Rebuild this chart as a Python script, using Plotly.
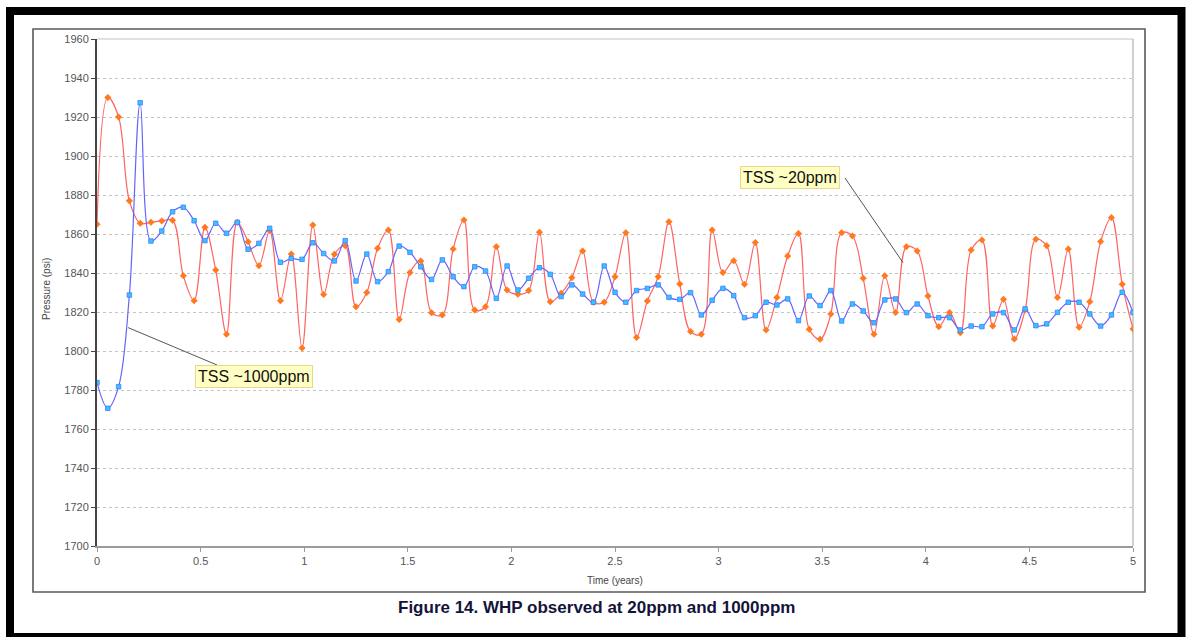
import numpy as np
import plotly.graph_objects as go

# Time axis (years) - uniform output steps over 5 years
time_years = np.linspace(0, 5, 97)

# Well-head pressure (psi), TSS ~20ppm case
whp_20ppm = [
    1865, 1930, 1920, 1877, 1865.5, 1866, 1866.7, 1867, 1838.6, 1825.8,
    1863.4, 1841.5, 1808.6, 1866, 1856, 1843.7, 1861.7, 1825.8, 1849.7, 1801.5,
    1864.6, 1829, 1849.6, 1854, 1822.7, 1830, 1852.7, 1862, 1816.2, 1840.2,
    1846.2, 1819.6, 1818.5, 1852.3, 1867.2, 1821, 1822.7, 1853.5, 1831.3, 1829.1,
    1831, 1860.9, 1825.3, 1829.6, 1837.6, 1851.3, 1825, 1825, 1838.1, 1860.7,
    1806.9, 1825.7, 1838.1, 1866.3, 1834.4, 1810, 1808.6, 1862, 1840.2, 1846.3,
    1834.2, 1855.6, 1810.8, 1827.5, 1848.7, 1860.3, 1811.1, 1806, 1819, 1860.7,
    1859, 1837.3, 1808.6, 1838.6, 1819.7, 1853.5, 1851.3, 1828.2, 1812.5, 1819.8,
    1809.4, 1851.8, 1856.9, 1812.8, 1826.5, 1806.2, 1821, 1857.3, 1854, 1827.4,
    1852.3, 1812.2, 1825.3, 1856.1, 1868.4, 1834.2, 1811.3,
]

# Well-head pressure (psi), TSS ~1000ppm case
whp_1000ppm = [
    1783.8, 1770.6, 1781.7, 1828.7, 1927.3, 1856.4, 1861.5, 1871.4, 1873.7, 1866.8,
    1856.6, 1865.5, 1860.4, 1866, 1852.2, 1855.2, 1862.9, 1845.5, 1847.5, 1847,
    1855.5, 1850, 1846.2, 1856.6, 1835.9, 1849.7, 1835.6, 1840.7, 1853.8, 1850.6,
    1843.2, 1836.7, 1846.7, 1838.1, 1833, 1843.2, 1841, 1827, 1843.6, 1831.3,
    1837.3, 1842.7, 1839.3, 1827.9, 1833.9, 1829.2, 1825, 1843.6, 1830.1, 1825,
    1831, 1832.1, 1833.9, 1827.5, 1826.5, 1829.9, 1818.5, 1826, 1832.1, 1828.4,
    1817.1, 1818.1, 1825, 1823.6, 1826.7, 1815.6, 1828.2, 1823.3, 1831, 1815.4,
    1824.1, 1820.5, 1814.5, 1826.2, 1826.7, 1819.7, 1824.1, 1818.1, 1817.1, 1817.1,
    1810.8, 1812.8, 1812.5, 1819, 1819.7, 1810.8, 1821.6, 1813, 1813.9, 1819.8,
    1825, 1825, 1819, 1812.8, 1818.5, 1830.1, 1819.7,
]

x_ticks = [0, 0.5, 1, 1.5, 2, 2.5, 3, 3.5, 4, 4.5, 5]
y_ticks = list(range(1700, 1961, 20))

W, H = 1186, 637
L, R, T, B = 97, 53, 39, 91
PW, PH = W - L - R, H - T - B


def px(xp):
    return (xp - L) / PW


def py(yp):
    return (H - B - yp) / PH


FONT = "Liberation Sans, Arial, sans-serif"

fig = go.Figure()

fig.add_trace(go.Scatter(
    x=time_years, y=whp_20ppm, mode="lines+markers", name="TSS ~20ppm",
    line=dict(color="#ff6464", width=1.2, shape="spline", smoothing=1.0),
    marker=dict(symbol="diamond", size=5, color="#ff7a1a",
                line=dict(color="#ff6a1a", width=0.5)),
))
fig.add_trace(go.Scatter(
    x=time_years, y=whp_1000ppm, mode="lines+markers", name="TSS ~1000ppm",
    line=dict(color="#6464ff", width=1.2, shape="spline", smoothing=1.0),
    marker=dict(symbol="square", size=4.5, color="#33c4ff",
                line=dict(color="#4a78ff", width=0.8)),
))

shapes = [
    # light frame on top and right of the plotting area
    dict(type="line", xref="paper", yref="paper", x0=0, x1=1, y0=1, y1=1,
         line=dict(color="#c4c4c4", width=1.2), layer="below"),
    dict(type="line", xref="paper", yref="paper", x0=1, x1=1, y0=0, y1=1,
         line=dict(color="#b0b0b0", width=1.2), layer="below"),
    # chart-area border
    dict(type="rect", xref="paper", yref="paper",
         x0=px(33), x1=px(1145), y0=py(592), y1=py(29),
         line=dict(color="#5a5a5a", width=1.6)),
    # outer black frame
    dict(type="rect", xref="paper", yref="paper",
         x0=px(10), x1=px(1181.5), y0=py(637), y1=py(11),
         line=dict(color="#000000", width=8)),
]

# leader lines from the callouts to the curves
shapes.append(dict(type="line", xref="x", yref="y",
                   x0=0.15, y0=1812, x1=(217 - L) / PW * 5, y1=1960 - (365 - T) * 260 / PH,
                   line=dict(color="#555555", width=1)))
shapes.append(dict(type="line", xref="x", yref="y",
                   x0=3.89, y0=1845.3, x1=(845 - L) / PW * 5, y1=1960 - (178 - T) * 260 / PH,
                   line=dict(color="#555555", width=1)))

annotations = [
    dict(text="TSS ~1000ppm", xref="paper", yref="paper", x=px(254), y=py(376),
         showarrow=False, font=dict(family=FONT, size=16, color="#111111"),
         bgcolor="#ffffc4", bordercolor="#e6d98c", borderwidth=1, borderpad=2,
         xanchor="center", yanchor="middle"),
    dict(text="TSS ~20ppm", xref="paper", yref="paper", x=px(790), y=py(177.5),
         showarrow=False, font=dict(family=FONT, size=16, color="#111111"),
         bgcolor="#ffffc4", bordercolor="#e6d98c", borderwidth=1, borderpad=2,
         xanchor="center", yanchor="middle"),
    dict(text="Pressure (psi)", xref="paper", yref="paper", x=px(46), y=py(289),
         textangle=-90, showarrow=False, xanchor="center", yanchor="middle",
         font=dict(family=FONT, size=10, color="#444444")),
    dict(text="Time (years)", xref="paper", yref="paper", x=px(615), y=py(580),
         showarrow=False, xanchor="center", yanchor="middle",
         font=dict(family=FONT, size=10, color="#444444")),
    dict(text="<b>Figure 14. WHP observed at 20ppm and 1000ppm</b>",
         xref="paper", yref="paper", x=px(596), y=py(607),
         showarrow=False, xanchor="center", yanchor="middle",
         font=dict(family=FONT, size=17, color="#14143a")),
]

fig.update_layout(
    width=W, height=H,
    margin=dict(l=L, r=R, t=T, b=B, pad=0),
    paper_bgcolor="white", plot_bgcolor="white",
    showlegend=False,
    shapes=shapes, annotations=annotations,
    font=dict(family=FONT),
)
fig.update_xaxes(
    range=[0, 5], tickvals=x_ticks, ticktext=[f"{v:g}" for v in x_ticks],
    showgrid=False, zeroline=False,
    showline=True, linecolor="#9a9a9a", linewidth=1.5,
    ticks="outside", ticklen=4, tickcolor="#9a9a9a",
    tickfont=dict(family=FONT, size=11, color="#555555"),
)
fig.update_yaxes(
    range=[1700, 1960], tickvals=y_ticks,
    showgrid=True, gridcolor="#c4c4c4", griddash="dot", gridwidth=1,
    zeroline=False,
    showline=True, linecolor="#444444", linewidth=2,
    ticks="outside", ticklen=4, tickcolor="#444444",
    tickfont=dict(family=FONT, size=11, color="#555555"),
)

fig.write_html("out.html")
